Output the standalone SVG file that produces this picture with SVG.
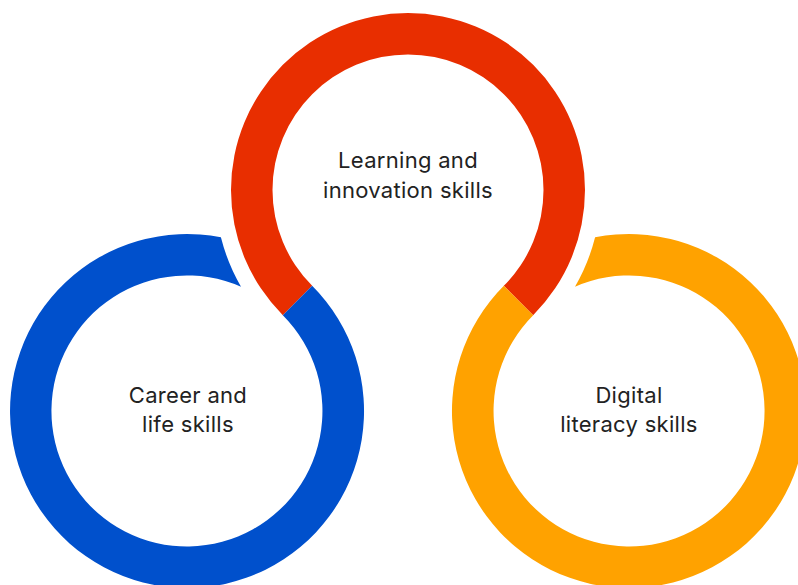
<svg xmlns="http://www.w3.org/2000/svg" width="798" height="585" viewBox="0 0 798 585">
<style>
.lbl{font-family:Inter,Roboto,"Liberation Sans",sans-serif;font-size:22px;letter-spacing:0.3px;fill:#222222;text-anchor:middle}
</style>
<rect width="798" height="585" fill="#ffffff"/>
<g id="connectors"></g>
<g id="learning">
<path d="M 282.84 315.16 A 177 177 0 1 1 533.16 315.16 L 503.81 285.81 A 135.5 135.5 0 1 0 312.19 285.81 Z" fill="#E82E00"/>
<text class="lbl" x="408" y="168">Learning and</text>
<text class="lbl" x="408" y="198">innovation skills</text>
</g>
<g id="career">
<path d="M 312.16 285.84 A 177 177 0 1 1 220.9 237.3 A 193 193 0 0 0 241.0 286.7 A 135.5 135.5 0 1 0 282.81 315.19 Z" fill="#0050CC"/>
<text class="lbl" x="188" y="403">Career and</text>
<text class="lbl" x="188" y="432">life skills</text>
</g>
<g id="digital">
<path d="M 503.84 285.84 A 177 177 0 1 0 595.1 237.3 A 193 193 0 0 1 575.0 286.7 A 135.5 135.5 0 1 1 533.19 315.19 Z" fill="#FFA200"/>
<text class="lbl" x="629" y="403">Digital</text>
<text class="lbl" x="629" y="432">literacy skills</text>
</g>
</svg>
